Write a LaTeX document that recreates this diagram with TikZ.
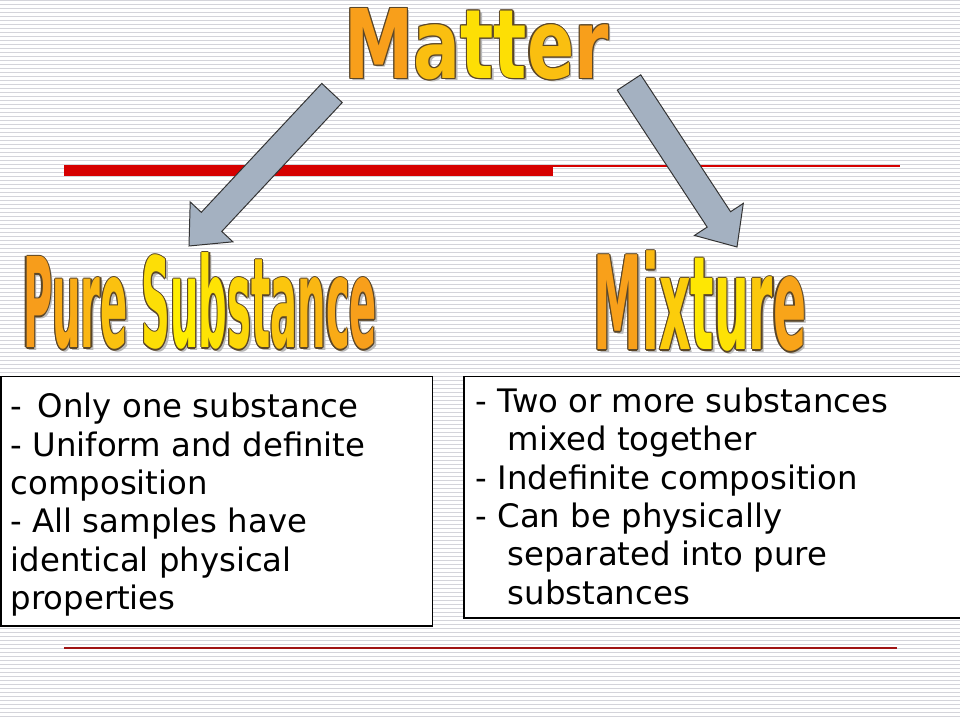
\documentclass[tikz,border=0pt]{standalone}
\usepackage{fontspec}
\usepackage{tikz}
\usetikzlibrary{positioning, calc, fit}

\newfontfamily\boxfont{DejaVu Sans}

\definecolor{wordorange}{RGB}{246,142,32}
\definecolor{wordyellow}{RGB}{255,240,0}
\definecolor{wordedge}{RGB}{90,70,40}
\definecolor{arrowgray}{RGB}{164,177,193}
\definecolor{stripe}{RGB}{212,212,218}
\definecolor{barred}{RGB}{214,0,0}
\definecolor{linered}{RGB}{160,20,20}

% letter colours of the titles (yellow in the middle, orange at the ends)
\newif\ifgradon
\newcommand{\grad}[2]{\ifgradon\textcolor{wordyellow!#1!wordorange}{#2}\else#2\fi}
\newcommand{\matterword}{\scalebox{0.725}[1]{\grad{17}{M}\grad{50}{a}\grad{83}{t}\grad{83}{t}\grad{50}{e}\grad{17}{r}}}
\newcommand{\pureword}{\scalebox{0.32}[1]{\grad{15}{P}\grad{30}{u}\grad{41}{r}\grad{52}{e} \grad{82}{S}\grad{97}{u}\grad{87}{b}\grad{75}{s}\grad{65}{t}\grad{57}{a}\grad{42}{n}\grad{30}{c}\grad{17}{e}}}
\newcommand{\mixword}{\scalebox{0.376}[1]{\grad{18}{M}\grad{45}{i}\grad{64}{x}\grad{91}{t}\grad{86}{u}\grad{59}{r}\grad{23}{e}}}

\tikzset{
  wordart/.style={font=\boxfont\bfseries\fontsize{#1}{#1}\selectfont, inner sep=0, anchor=base},
  blockarrow/.style={fill=arrowgray, draw=black!80, line width=0.7pt, line join=miter},
  infobox/.style={draw=black, fill=white, line width=0.9pt, inner sep=0},
  boxtext/.style={font=\boxfont\fontsize{23}{27.3}\selectfont, align=left, inner sep=0}
}

\begin{document}
\begin{tikzpicture}[x=0.025cm, y=-0.025cm]
    \useasboundingbox (0,0) rectangle (960,720);
    \fill[white] (0,0) rectangle (960,720);
    \foreach \k in {0,...,179}
        \draw[stripe, line width=0.7pt] (0,4*\k+0.5) -- (960,4*\k+0.5);

    % Red rules
    \fill[barred] (64,165) rectangle (553,176);
    \fill[barred] (553,164.6) rectangle (900,166.6);
    \fill[linered] (64,647) rectangle (897,649);

    % Titles: shadow, dark rim, then the coloured letters
    \foreach \wname/\wx/\wy/\wsize in {matter/476.5/78.5/68.3, pure/200/348/88.9, mix/700/350/92.5} {
        \node[wordart=\wsize, text=gray!55] at (\wx+2.5,\wy+2.5) {\csname\wname word\endcsname};
        \foreach \dx/\dy in {-1.2/0, 1.2/0, 0/-1.2, 0/1.2, -0.85/-0.85, 0.85/0.85, -0.85/0.85, 0.85/-0.85}
            \node[wordart=\wsize, text=wordedge] at (\wx+\dx,\wy+\dy) {\csname\wname word\endcsname};
        \node[wordart=\wsize] (\wname) at (\wx,\wy) {\gradontrue\csname\wname word\endcsname};
    }

    % Arrows
    \coordinate (puretail) at (332,93);
    \coordinate (puretip) at (189,246);
    \coordinate (mixtail) at (629,82.5);
    \coordinate (mixtip) at (737,247);
    \foreach \a/\b in {puretail/puretip, mixtail/mixtip} {
        \coordinate (hb) at ($(\b)!0.825cm!(\a)$);
        \filldraw[blockarrow] ($(\a)!0.35cm!90:(\b)$) -- ($(hb)!0.35cm!90:(\b)$)
            -- ($(hb)!0.73cm!90:(\b)$) -- (\b) -- ($(hb)!0.73cm!-90:(\b)$)
            -- ($(hb)!0.35cm!-90:(\b)$) -- ($(\a)!0.35cm!-90:(\b)$) -- cycle;
    }

    % Boxes
    \node[infobox, fit={(1,376.5)(432.5,626)}] (purebox) {};
    \node[infobox, fit={(464,376.5)(962,618)}] (mixbox) {};

    % Box texts
    \node[boxtext, below right=0.425cm and 0.25cm of purebox.north west] (puretext)
        {-\ \,Only one substance\\- Uniform and definite\\composition\\- All samples have\\identical physical\\properties};
    \node[boxtext, below right=0.29cm and 0.3cm of mixbox.north west] (mixtext)
        {- Two or more substances\\\hspace*{22.8pt}mixed together\\- Indefinite composition\\- Can be physically\\\hspace*{22.8pt}separated into pure\\\hspace*{22.8pt}substances};
\end{tikzpicture}
\end{document}
